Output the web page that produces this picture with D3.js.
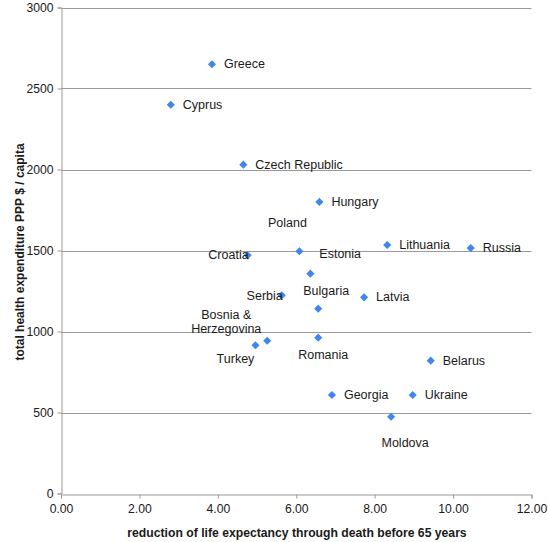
<!DOCTYPE html>
<html>
<head>
<meta charset="utf-8">
<script src="https://cdn.jsdelivr.net/npm/d3@7"></script>
<style>
  html, body { margin: 0; padding: 0; background: #fff; }
  svg { display: block; font-family: "Liberation Sans", Arial, sans-serif; }
</style>
</head>
<body>
<svg id="chart" width="548" height="542"></svg>
<script>
// ---- data ----
const countries = ["Greece", "Cyprus", "Czech Republic", "Hungary", "Poland", "Croatia", "Estonia",
  "Lithuania", "Russia", "Bulgaria", "Serbia", "Latvia", "Bosnia & Herzegovina", "Turkey",
  "Romania", "Belarus", "Georgia", "Ukraine", "Moldova"];
const lifeReduction = [3.85, 2.80, 4.65, 6.59, 6.08, 4.76, 6.36,
  8.32, 10.45, 6.56, 5.63, 7.73, 5.26, 4.96,
  6.56, 9.43, 6.91, 8.97, 8.42];
const healthExpenditure = [2650, 2400, 2030, 1800, 1495, 1470, 1357,
  1534, 1515, 1141, 1223, 1211, 943, 915,
  962, 820, 608, 608, 474];
const xTicks = [0, 2, 4, 6, 8, 10, 12];
const yTicks = [0, 500, 1000, 1500, 2000, 2500, 3000];
const xTitle = "reduction of life expectancy through death before 65 years";
const yTitle = "total health expenditure PPP $ / capita";

// ---- drawing ----
const svg = d3.select("#chart");
const x = d3.scaleLinear().domain([0, 12]).range([61, 531.5]);
const y = d3.scaleLinear().domain([0, 3000]).range([493.5, 7.5]);
const gridColor = "#9a9a9a";
const textColor = "#1a1a1a";
const markerColor = "#3f86ee";

// gridlines
svg.append("g").selectAll("line").data(yTicks.filter(d => d > 0)).join("line")
  .attr("x1", x(0)).attr("x2", x(12))
  .attr("y1", d => Math.round(y(d)) + 0.5).attr("y2", d => Math.round(y(d)) + 0.5)
  .attr("stroke", gridColor).attr("stroke-width", 1);

// y axis
const yAxis = svg.append("g").attr("transform", `translate(${Math.round(x(0)) + 0.5},0)`)
  .call(d3.axisLeft(y).tickValues(yTicks).tickFormat(d3.format("d")).tickSize(4).tickPadding(4));
// x axis
const xAxis = svg.append("g").attr("transform", `translate(0,${Math.round(y(0)) + 0.5})`)
  .call(d3.axisBottom(x).tickValues(xTicks).tickFormat(d3.format(".2f")).tickSize(4).tickPadding(6));
[yAxis, xAxis].forEach(g => {
  g.select(".domain").attr("stroke", gridColor);
  g.selectAll(".tick line").attr("stroke", gridColor);
  g.selectAll(".tick text").attr("fill", textColor)
    .style("font-size", "12.2px").style("font-family", "'Liberation Sans', Arial, sans-serif");
});

// points
const pts = countries.map((c, i) => ({ name: c, x: lifeReduction[i], y: healthExpenditure[i] }));
const diamond = d3.symbol().type(d3.symbolDiamond2).size(42);
svg.append("g").selectAll("path").data(pts).join("path")
  .attr("d", diamond)
  .attr("transform", d => `translate(${x(d.x)},${y(d.y)})`)
  .attr("fill", markerColor);

// label placement (offsets from marker, in px) — layout, not data
const placement = {
  "Greece": { dx: 12, dy: 0, anchor: "start" },
  "Cyprus": { dx: 12, dy: 0, anchor: "start" },
  "Czech Republic": { dx: 12, dy: 0, anchor: "start" },
  "Hungary": { dx: 12, dy: 0, anchor: "start" },
  "Poland": { dx: -12, dy: -28, anchor: "middle" },
  "Croatia": { dx: 1, dy: 0, anchor: "end" },
  "Estonia": { dx: 9, dy: -20, anchor: "start" },
  "Lithuania": { dx: 12, dy: 0, anchor: "start" },
  "Russia": { dx: 12, dy: 0, anchor: "start" },
  "Bulgaria": { dx: 8, dy: -18, anchor: "middle" },
  "Serbia": { dx: 1, dy: 0.5, anchor: "end" },
  "Latvia": { dx: 12, dy: 0, anchor: "start" },
  "Bosnia & Herzegovina": { dx: -41, dy: -26, anchor: "middle", lines: ["Bosnia &", "Herzegovina"] },
  "Turkey": { dx: -20, dy: 14, anchor: "middle" },
  "Romania": { dx: 5, dy: 17.5, anchor: "middle" },
  "Belarus": { dx: 12, dy: 0, anchor: "start" },
  "Georgia": { dx: 12, dy: 0, anchor: "start" },
  "Ukraine": { dx: 12, dy: 0, anchor: "start" },
  "Moldova": { dx: 14, dy: 26.5, anchor: "middle" }
};
const lbl = svg.append("g").style("font-size", "12.5px").attr("fill", textColor);
pts.forEach(d => {
  const p = placement[d.name];
  const lines = p.lines || [d.name];
  const t = lbl.append("text")
    .attr("text-anchor", p.anchor)
    .attr("x", x(d.x) + p.dx)
    .attr("y", y(d.y) + p.dy)
    .attr("dominant-baseline", "central");
  lines.forEach((l, k) => {
    t.append("tspan").attr("x", x(d.x) + p.dx).attr("dy", k === 0 ? 0 : 14.6).text(l);
  });
});

// axis titles
svg.append("text").attr("x", 297).attr("y", 533).attr("text-anchor", "middle")
  .attr("dominant-baseline", "central")
  .style("font-size", "12.2px").style("font-weight", "bold").attr("fill", textColor).text(xTitle);
svg.append("text").attr("transform", "translate(20,252) rotate(-90)").attr("text-anchor", "middle")
  .attr("dominant-baseline", "central")
  .style("font-size", "12px").style("font-weight", "bold").attr("fill", textColor).text(yTitle);
</script>
</body>
</html>
